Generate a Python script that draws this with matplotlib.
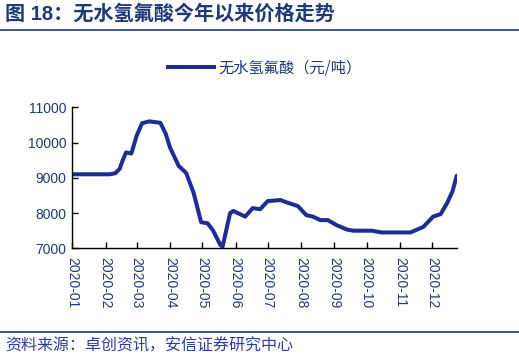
import matplotlib
matplotlib.use("Agg")
import matplotlib.pyplot as plt
import pandas as pd
from matplotlib.lines import Line2D

plt.rcParams["font.family"] = ["Liberation Sans", "Noto Sans CJK SC", "DejaVu Sans"]

# 无水氢氟酸价格（元/吨）
dates = [
    "2020-01-01", "2020-01-20", "2020-02-05", "2020-02-10", "2020-02-14",
    "2020-02-17", "2020-02-20", "2020-02-25", "2020-03-01", "2020-03-06",
    "2020-03-13", "2020-03-23", "2020-03-28", "2020-04-01", "2020-04-09",
    "2020-04-16", "2020-04-23", "2020-04-30", "2020-05-06", "2020-05-11",
    "2020-05-18", "2020-05-20", "2020-05-24", "2020-05-27", "2020-05-30",
    "2020-06-10", "2020-06-17", "2020-06-24", "2020-07-01", "2020-07-13",
    "2020-07-17", "2020-07-24", "2020-07-29", "2020-08-06", "2020-08-12",
    "2020-08-19", "2020-08-26", "2020-09-03", "2020-09-13", "2020-09-19",
    "2020-10-06", "2020-10-15", "2020-11-11", "2020-11-23", "2020-12-02",
    "2020-12-09", "2020-12-15", "2020-12-20", "2020-12-24",
]
prices = [
    9100, 9100, 9100, 9130, 9250,
    9500, 9720, 9690, 10200, 10550,
    10600, 10560, 10250, 9860, 9340,
    9140, 8570, 7740, 7710, 7510,
    7090, 7050, 7600, 8000, 8060,
    7900, 8140, 8110, 8340, 8370,
    8320, 8250, 8200, 7940, 7900,
    7800, 7800, 7660, 7530, 7500,
    7500, 7450, 7450, 7610, 7900,
    7970, 8280, 8610, 9060,
]
month_labels = ["2020-%02d" % m for m in range(1, 13)]

navy = "#1F3A7A"
line_color = "#1C2E96"

fig = plt.figure(figsize=(5.19, 3.62), dpi=100)
ax = fig.add_axes([0.1393, 0.314, 0.7407, 0.3896])

x = pd.to_datetime(dates)
ax.plot(x, prices, color=line_color, linewidth=2.9, solid_capstyle="round",
        solid_joinstyle="round")

ax.set_ylim(7000, 11000)
ax.set_yticks([7000, 8000, 9000, 10000, 11000])
ax.set_xlim(pd.Timestamp("2020-01-01"), pd.Timestamp("2020-12-24"))
ticks = pd.date_range("2020-01-01", periods=12, freq="MS")
ax.set_xticks(ticks)
ax.set_xticklabels(month_labels, rotation=-90)

for side in ["top", "right"]:
    ax.spines[side].set_visible(False)
for side in ["left", "bottom"]:
    ax.spines[side].set_linewidth(1.0)
ax.tick_params(axis="both", direction="in", length=4, width=1,
               labelsize=10, labelcolor=navy, pad=4)
ax.tick_params(axis="x", pad=6)

# legend
fig.legend(handles=[Line2D([], [], color=line_color, linewidth=2.9)],
           labels=["无水氢氟酸（元/吨）"], loc="center",
           bbox_to_anchor=(0.51, 0.812), frameon=False,
           handlelength=3.0, handletextpad=0.3,
           prop={"family": ["Noto Sans CJK SC"], "size": 11},
           labelcolor=navy)

# title and source
fig.text(0.01, 0.962, "图 18：无水氢氟酸今年以来价格走势", fontsize=14.5,
         fontweight="bold", color=navy, va="center", ha="left",
         family=["Liberation Sans", "Noto Sans CJK SC"])
fig.add_artist(Line2D([0.0, 1.0], [0.918, 0.918], color=navy, linewidth=1.2,
                      transform=fig.transFigure))
fig.add_artist(Line2D([0.0, 1.0], [0.084, 0.084], color=navy, linewidth=1.2,
                      transform=fig.transFigure))
fig.text(0.01, 0.044, "资料来源：卓创资讯，安信证券研究中心", fontsize=11.5,
         color="#2A3FA0", va="center", ha="left", style="italic",
         family=["Noto Sans CJK SC"])

fig.savefig("out.png", dpi=100)
